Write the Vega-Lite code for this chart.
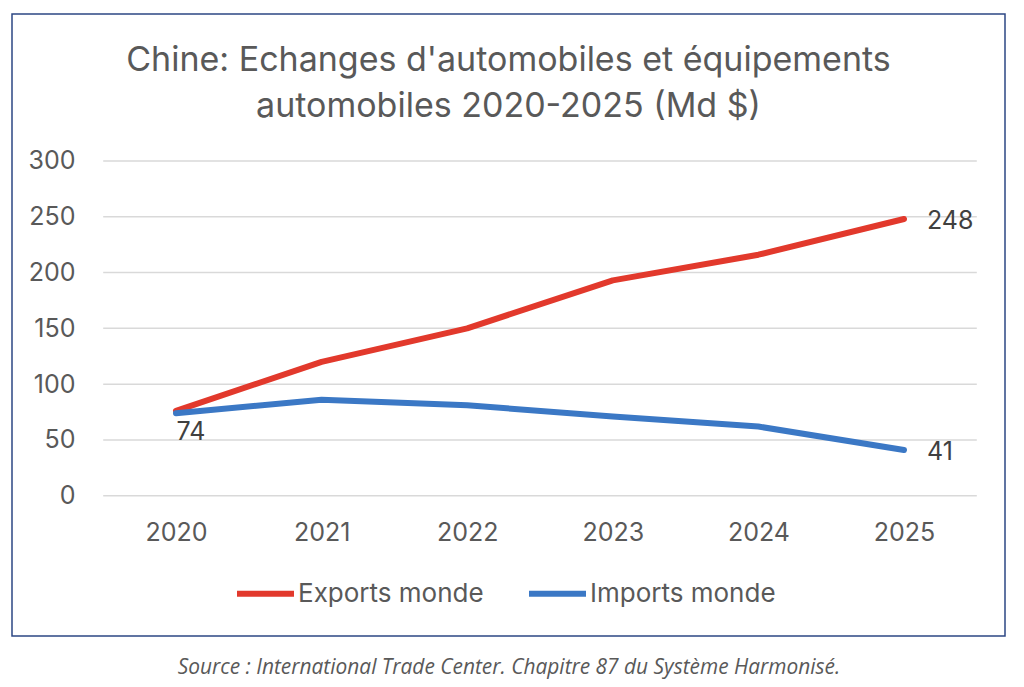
{
  "$schema": "https://vega.github.io/schema/vega-lite/v6.json",
  "width": 993,
  "height": 622,
  "autosize": {"type": "none"},
  "padding": {"left": 12, "top": 14, "right": 19, "bottom": 51},
  "background": "white",
  "config": {
    "view": {"stroke": "#2d4784", "strokeWidth": 1.5},
    "font": "Inter"
  },
  "title": {
    "text": ["Chine: Echanges d'automobiles et équipements", "automobiles 2020-2025 (Md $)"],
    "anchor": "middle",
    "frame": "group",
    "font": "Inter",
    "fontSize": 34,
    "fontWeight": "normal",
    "color": "#595959",
    "lineHeight": 46,
    "baseline": "top",
    "offset": -110
  },
  "datasets": {
    "trade": [
      {"year": 2020, "series": "Exports monde", "value": 76},
      {"year": 2021, "series": "Exports monde", "value": 120},
      {"year": 2022, "series": "Exports monde", "value": 150},
      {"year": 2023, "series": "Exports monde", "value": 193},
      {"year": 2024, "series": "Exports monde", "value": 216},
      {"year": 2025, "series": "Exports monde", "value": 248},
      {"year": 2020, "series": "Imports monde", "value": 74},
      {"year": 2021, "series": "Imports monde", "value": 86},
      {"year": 2022, "series": "Imports monde", "value": 81},
      {"year": 2023, "series": "Imports monde", "value": 71},
      {"year": 2024, "series": "Imports monde", "value": 62},
      {"year": 2025, "series": "Imports monde", "value": 41}
    ],
    "grid": [
      {"value": 0}, {"value": 50}, {"value": 100}, {"value": 150},
      {"value": 200}, {"value": 250}, {"value": 300}
    ]
  },
  "encoding": {
    "y": {
      "field": "value",
      "type": "quantitative",
      "scale": {"domain": [-125.75, 431.75], "nice": false, "zero": false},
      "axis": {
        "title": null,
        "values": [0, 50, 100, 150, 200, 250, 300],
        "grid": false,
        "domain": false,
        "ticks": false,
        "tickSize": 0,
        "labelPadding": 0,
        "offset": -63,
        "labelFont": "Inter",
        "labelFontSize": 25,
        "labelColor": "#595959"
      }
    }
  },
  "layer": [
    {
      "data": {"name": "grid"},
      "mark": {"type": "rule", "color": "#d9d9d9", "strokeWidth": 1.5},
      "encoding": {
        "x": {"datum": 2019.5, "type": "quantitative", "scale": {"domain": [2018.8736, 2025.6937], "nice": false, "zero": false}},
        "x2": {"datum": 2025.5}
      }
    },
    {
      "data": {"name": "trade"},
      "mark": {"type": "line", "strokeWidth": 6, "strokeCap": "round", "strokeJoin": "round"},
      "encoding": {
        "x": {
          "field": "year",
          "type": "quantitative",
          "scale": {"domain": [2018.8736, 2025.6937], "nice": false, "zero": false},
          "axis": {
            "title": "Source : International Trade Center. Chapitre 87 du Système Harmonisé.",
            "values": [2020, 2021, 2022, 2023, 2024, 2025],
            "format": "d",
            "grid": false,
            "domain": false,
            "ticks": false,
            "tickSize": 0,
            "labelPadding": 0,
            "labelFlush": false,
            "labelOverlap": false,
            "offset": -116,
            "labelFont": "Inter",
            "labelFontSize": 25,
            "labelColor": "#595959",
            "titleFont": "Open Sans",
            "titleFontStyle": "italic",
            "titleFontWeight": "normal",
            "titleFontSize": 20.9,
            "titleColor": "#595959",
            "titleY": 147,
            "titleBaseline": "middle",
            "titleLimit": 900
          }
        },
        "color": {
          "field": "series",
          "type": "nominal",
          "scale": {"domain": ["Exports monde", "Imports monde"], "range": ["#e2392c", "#3b78c5"]},
          "legend": {
            "orient": "none",
            "legendX": 222,
            "legendY": 548,
            "direction": "horizontal",
            "title": null,
            "symbolType": "stroke",
            "symbolSize": 3249,
            "symbolStrokeWidth": 6,
            "labelFont": "Inter",
            "labelFontSize": 26,
            "labelColor": "#595959",
            "labelOffset": 1,
            "labelLimit": 400,
            "columnPadding": 33,
            "padding": 0
          }
        }
      }
    },
    {
      "data": {"name": "trade"},
      "transform": [{"filter": "datum.year == 2025"}],
      "mark": {"type": "text", "align": "left", "baseline": "middle", "dx": 23, "dy": 2, "fontSize": 25, "font": "Inter", "color": "#404040"},
      "encoding": {
        "x": {"field": "year", "type": "quantitative", "scale": {"domain": [2018.8736, 2025.6937], "nice": false, "zero": false}},
        "text": {"field": "value", "type": "quantitative"}
      }
    },
    {
      "data": {"name": "trade"},
      "transform": [{"filter": "datum.year == 2020 && datum.series == 'Imports monde'"}],
      "mark": {"type": "text", "align": "center", "baseline": "middle", "dx": 15, "dy": 19, "fontSize": 25, "font": "Inter", "color": "#404040"},
      "encoding": {
        "x": {"field": "year", "type": "quantitative", "scale": {"domain": [2018.8736, 2025.6937], "nice": false, "zero": false}},
        "text": {"field": "value", "type": "quantitative"}
      }
    }
  ]
}
